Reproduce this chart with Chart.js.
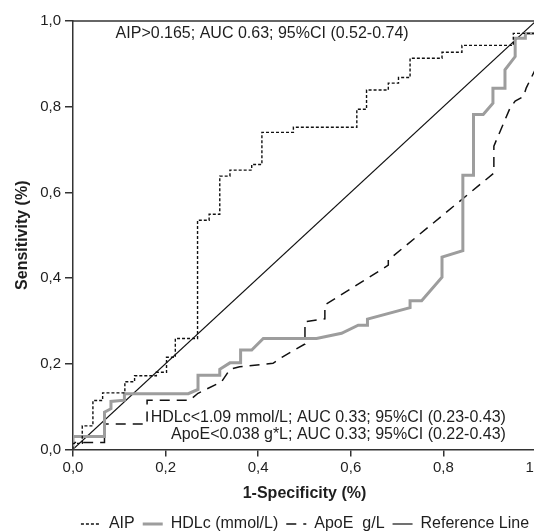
<!DOCTYPE html>
<html><head><meta charset="utf-8">
<script src="https://cdn.jsdelivr.net/npm/chart.js@4"></script>
<style>
html,body{margin:0;padding:0;background:#fff;overflow:hidden;}
#wrap{width:534px;height:531px;overflow:hidden;position:relative;background:#fff;}
canvas{display:block;}
</style></head><body>
<div id="wrap"><canvas id="c" width="610" height="542"></canvas></div>
<script>
// ---- data (1-specificity, sensitivity) ----
const aipX = [0,0,0.020,0.020,0.043,0.043,0.064,0.064,0.112,0.112,0.133,0.133,0.180,0.180,0.202,0.202,0.221,0.221,0.269,0.269,0.294,0.294,0.317,0.317,0.339,0.339,0.386,0.386,0.408,0.408,0.476,0.476,0.613,0.613,0.634,0.634,0.681,0.681,0.703,0.703,0.728,0.728,0.797,0.797,0.840,0.840,0.951,0.951,0.977,1,1];
const aipY = [0,0.014,0.014,0.055,0.055,0.114,0.114,0.132,0.132,0.158,0.158,0.172,0.172,0.180,0.180,0.215,0.215,0.259,0.259,0.535,0.535,0.549,0.549,0.638,0.638,0.652,0.652,0.665,0.665,0.740,0.740,0.752,0.752,0.794,0.794,0.839,0.839,0.855,0.855,0.868,0.868,0.913,0.913,0.927,0.927,0.943,0.943,0.971,0.971,0.971,1];

const hdlX = [0,0,0.068,0.068,0.082,0.082,0.111,0.111,0.249,0.270,0.270,0.317,0.317,0.339,0.362,0.362,0.386,0.411,0.526,0.580,0.616,0.636,0.636,0.728,0.728,0.753,0.797,0.797,0.842,0.842,0.865,0.865,0.886,0.907,0.907,0.933,0.933,0.955,0.955,0.977,0.977,1,1];
const hdlY = [0,0.030,0.030,0.087,0.095,0.112,0.115,0.130,0.130,0.140,0.173,0.173,0.187,0.202,0.202,0.232,0.232,0.259,0.259,0.271,0.290,0.290,0.304,0.331,0.347,0.347,0.402,0.449,0.464,0.640,0.640,0.782,0.782,0.808,0.843,0.843,0.886,0.917,0.960,0.960,0.971,0.971,1];

const apoX = [0,0,0.068,0.068,0.160,0.160,0.252,0.270,0.321,0.339,0.360,0.432,0.451,0.501,0.501,0.544,0.544,0.681,0.681,0.909,0.909,0.944,0.955,0.973,0.979,1,1];
const apoY = [0,0.016,0.016,0.059,0.059,0.115,0.115,0.131,0.158,0.187,0.193,0.201,0.215,0.246,0.298,0.305,0.337,0.430,0.442,0.645,0.708,0.797,0.813,0.824,0.844,0.890,1];

const refX = [0,1];
const refY = [0,1];

const seriesNames = ['AIP','HDLc (mmol/L)','ApoE  g/L','Reference Line'];
const tickLabels = ['0,0','0,2','0,4','0,6','0,8','1,0'];
const noteTexts = [
  'AIP>0.165; AUC 0.63; 95%CI (0.52-0.74)',
  'HDLc<1.09 mmol/L; AUC 0.33; 95%CI (0.23-0.43)',
  'ApoE<0.038 g*L; AUC 0.33; 95%CI (0.22-0.43)'
];
const xTitle = '1-Specificity (%)';
const yTitle = 'Sensitivity (%)';

// ---- build ----
const zip = (xs, ys) => xs.map((x, i) => ({x, y: ys[i]}));
const FONT = "'Liberation Sans', Arial, Helvetica, sans-serif";
Chart.defaults.font.family = FONT;
Chart.defaults.color = '#1e1e1e';

const AX = '#333333';

const notePlugin = {
  id: 'notes',
  afterDatasetsDraw(chart) {
    const {ctx, chartArea: a, scales: {x, y}} = chart;
    ctx.save();
    ctx.font = '16px ' + FONT;
    ctx.fillStyle = '#1e1e1e';
    ctx.textBaseline = 'middle';
    ctx.textAlign = 'left';
    ctx.fillText(noteTexts[0], x.getPixelForValue(0.092), y.getPixelForValue(0.970));
    ctx.textAlign = 'right';
    ctx.fillText(noteTexts[1], x.getPixelForValue(0.935), y.getPixelForValue(0.074));
    ctx.fillText(noteTexts[2], x.getPixelForValue(0.935), y.getPixelForValue(0.034));
    ctx.strokeStyle = AX;
    ctx.lineWidth = 1.5;
    ctx.beginPath();
    ctx.moveTo(a.left, a.top);
    ctx.lineTo(a.right, a.top);
    ctx.stroke();
    ctx.restore();
  }
};

const common = {pointRadius: 0, pointHoverRadius: 0, tension: 0, fill: false, borderJoinStyle: 'miter', borderCapStyle: 'butt'};

new Chart(document.getElementById('c'), {
  type: 'line',
  data: {
    datasets: [
      {...common, label: seriesNames[0], data: zip(aipX, aipY), borderColor: '#111', backgroundColor: '#111', borderWidth: 1.4, borderDash: [3, 2]},
      {...common, label: seriesNames[1], data: zip(hdlX, hdlY), borderColor: '#9d9d9d', backgroundColor: '#9d9d9d', borderWidth: 3},
      {...common, label: seriesNames[2], data: zip(apoX, apoY), borderColor: '#111', backgroundColor: '#111', borderWidth: 1.5, borderDash: [10, 7]},
      {...common, label: seriesNames[3], data: zip(refX, refY), borderColor: '#111', backgroundColor: '#111', borderWidth: 1.2}
    ]
  },
  options: {
    responsive: false,
    animation: false,
    devicePixelRatio: 1,
    layout: {padding: {top: 21, right: 0, left: 0, bottom: 0}},
    plugins: {
      tooltip: {enabled: false},
      legend: {
        position: 'bottom',
        labels: {
          usePointStyle: true, pointStyle: 'line', pointStyleWidth: 20, padding: 8, color: '#1e1e1e', font: {size: 16},
          generateLabels: chart => chart.data.datasets.map((ds, i) => ({
            text: ds.label, datasetIndex: i, hidden: false,
            strokeStyle: ds.borderColor, fillStyle: ds.borderColor, fontColor: '#1e1e1e',
            lineWidth: ds.borderWidth, lineDash: ds.borderDash || [], lineCap: 'butt',
            pointStyle: 'line', rotation: 0
          }))
        }
      }
    },
    scales: {
      x: {
        type: 'linear', min: 0, max: 1,
        afterFit: s => { s.height = 58.6; },
        ticks: {stepSize: 0.2, padding: 2, font: {size: 15}, color: '#1e1e1e', maxRotation: 0, callback: (v, i) => tickLabels[i]},
        grid: {drawOnChartArea: false, drawTicks: true, tickLength: 7, color: AX, lineWidth: 1.5},
        border: {display: true, color: AX, width: 1.5},
        title: {display: true, text: xTitle, font: {size: 16, weight: 'bold'}, color: '#1e1e1e', padding: {top: 0, bottom: 5}}
      },
      y: {
        type: 'linear', min: 0, max: 1,
        afterFit: s => { s.width = 73; },
        ticks: {stepSize: 0.2, padding: 4, font: {size: 15}, color: '#1e1e1e', callback: (v, i) => tickLabels[i]},
        grid: {drawOnChartArea: false, drawTicks: true, tickLength: 8, color: AX, lineWidth: 1.5},
        border: {display: true, color: AX, width: 1.5},
        title: {display: true, text: yTitle, font: {size: 16, weight: 'bold'}, color: '#1e1e1e', padding: {top: 13, bottom: 0}}
      },
      yRightSpace: {
        type: 'linear', position: 'right', display: true, min: 0, max: 1,
        afterFit: s => { s.width = 74; },
        ticks: {display: false},
        grid: {display: false, drawTicks: false},
        border: {display: false},
        title: {display: false}
      }
    }
  },
  plugins: [notePlugin]
});
</script>
</body></html>
